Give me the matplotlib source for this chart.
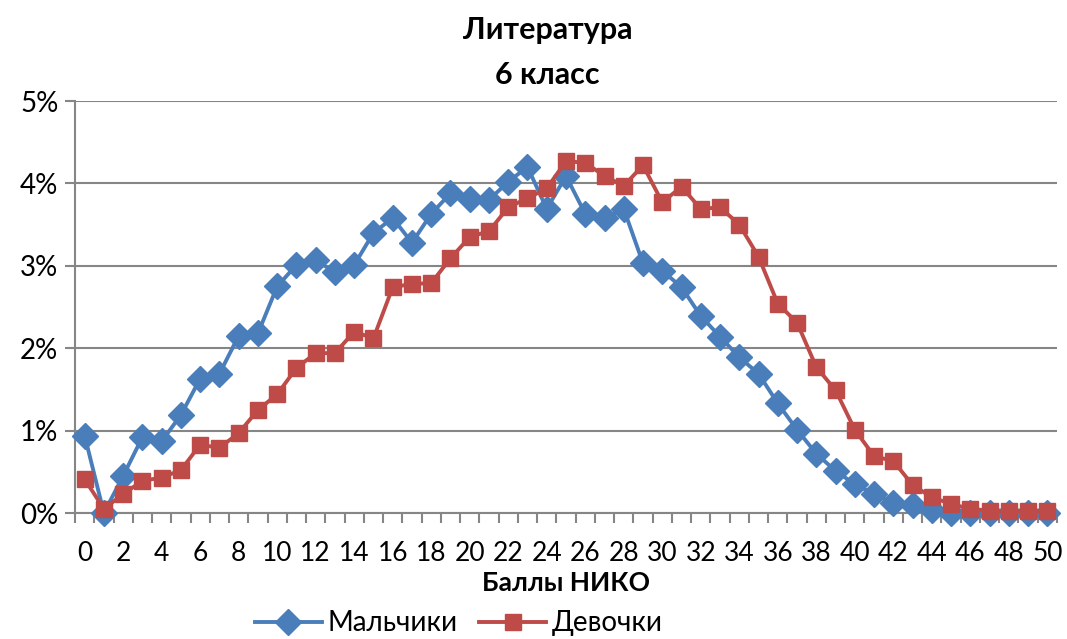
import numpy as np
import matplotlib.pyplot as plt
from matplotlib.ticker import FixedLocator, PercentFormatter

# Scores 0..50
scores = list(range(51))

# percent of students with each score
boys = [0.94, 0.00, 0.45, 0.92, 0.87, 1.19, 1.63, 1.69, 2.15, 2.18,
        2.75, 3.01, 3.07, 2.92, 3.01, 3.40, 3.58, 3.28, 3.63, 3.88,
        3.81, 3.80, 4.02, 4.20, 3.69, 4.09, 3.63, 3.58, 3.69, 3.03,
        2.94, 2.74, 2.39, 2.14, 1.89, 1.69, 1.33, 1.01, 0.72, 0.51,
        0.35, 0.23, 0.12, 0.10, 0.04, 0.00, 0.00, 0.00, 0.00, 0.00,
        0.00]
girls = [0.41, 0.05, 0.23, 0.39, 0.43, 0.52, 0.83, 0.79, 0.97, 1.25,
         1.44, 1.76, 1.94, 1.94, 2.20, 2.12, 2.74, 2.78, 2.79, 3.09,
         3.35, 3.42, 3.71, 3.82, 3.94, 4.27, 4.25, 4.09, 3.97, 4.22,
         3.77, 3.96, 3.69, 3.71, 3.50, 3.11, 2.54, 2.31, 1.77, 1.49,
         1.01, 0.69, 0.63, 0.34, 0.19, 0.11, 0.05, 0.03, 0.02, 0.02,
         0.02]

title = "Литература\n6 класс"
x_title = "Баллы НИКО"
labels = ["Мальчики", "Девочки"]

plt.rcParams['font.family'] = ['Lato', 'DejaVu Sans']

fig = plt.figure(figsize=(10.67, 6.39), dpi=100)
ax = fig.add_axes([75 / 1067, 1 - 513 / 639, 982 / 1067, 412 / 639])

grid_col = "#868686"
ax.plot(scores, boys, color="#4A7EBB", lw=2.8, marker="D", ms=13,
        label=labels[0], zorder=3, clip_on=False)
ax.plot(scores, girls, color="#BE4B48", lw=2.8, marker="s", ms=12,
        label=labels[1], zorder=4, clip_on=False)

ax.set_xlim(-0.5, 50.5)
ax.set_ylim(0, 5)
ax.yaxis.set_major_formatter(PercentFormatter(decimals=0))
ax.set_yticks(range(6))
ax.grid(axis="y", color=grid_col, lw=1.5)
ax.set_axisbelow(True)

ax.set_xticks(scores[::2])
ax.xaxis.set_minor_locator(FixedLocator(np.arange(-0.5, 51, 1)))
ax.tick_params(axis="x", which="major", length=0, labelsize=19, pad=20)
ax.tick_params(axis="x", which="minor", length=7, width=1.5, color=grid_col)
ax.tick_params(axis="y", length=7, width=1.5, color=grid_col, labelsize=20, pad=5)

for s in ["top", "right"]:
    ax.spines[s].set_visible(False)
for s in ["left", "bottom"]:
    ax.spines[s].set_color(grid_col)
    ax.spines[s].set_linewidth(1.5)

ax.set_xlabel(x_title, fontsize=19, fontweight="bold", labelpad=4)
fig.suptitle(title, fontsize=22, fontweight="bold", y=0.975, x=0.513,
             linespacing=1.75)

fig.legend(loc="lower center", bbox_to_anchor=(0.43, -0.035), ncol=2,
           frameon=False, fontsize=20, handlelength=2.4, columnspacing=0.8,
           handletextpad=0.2)

fig.savefig("out.png", dpi=100)
